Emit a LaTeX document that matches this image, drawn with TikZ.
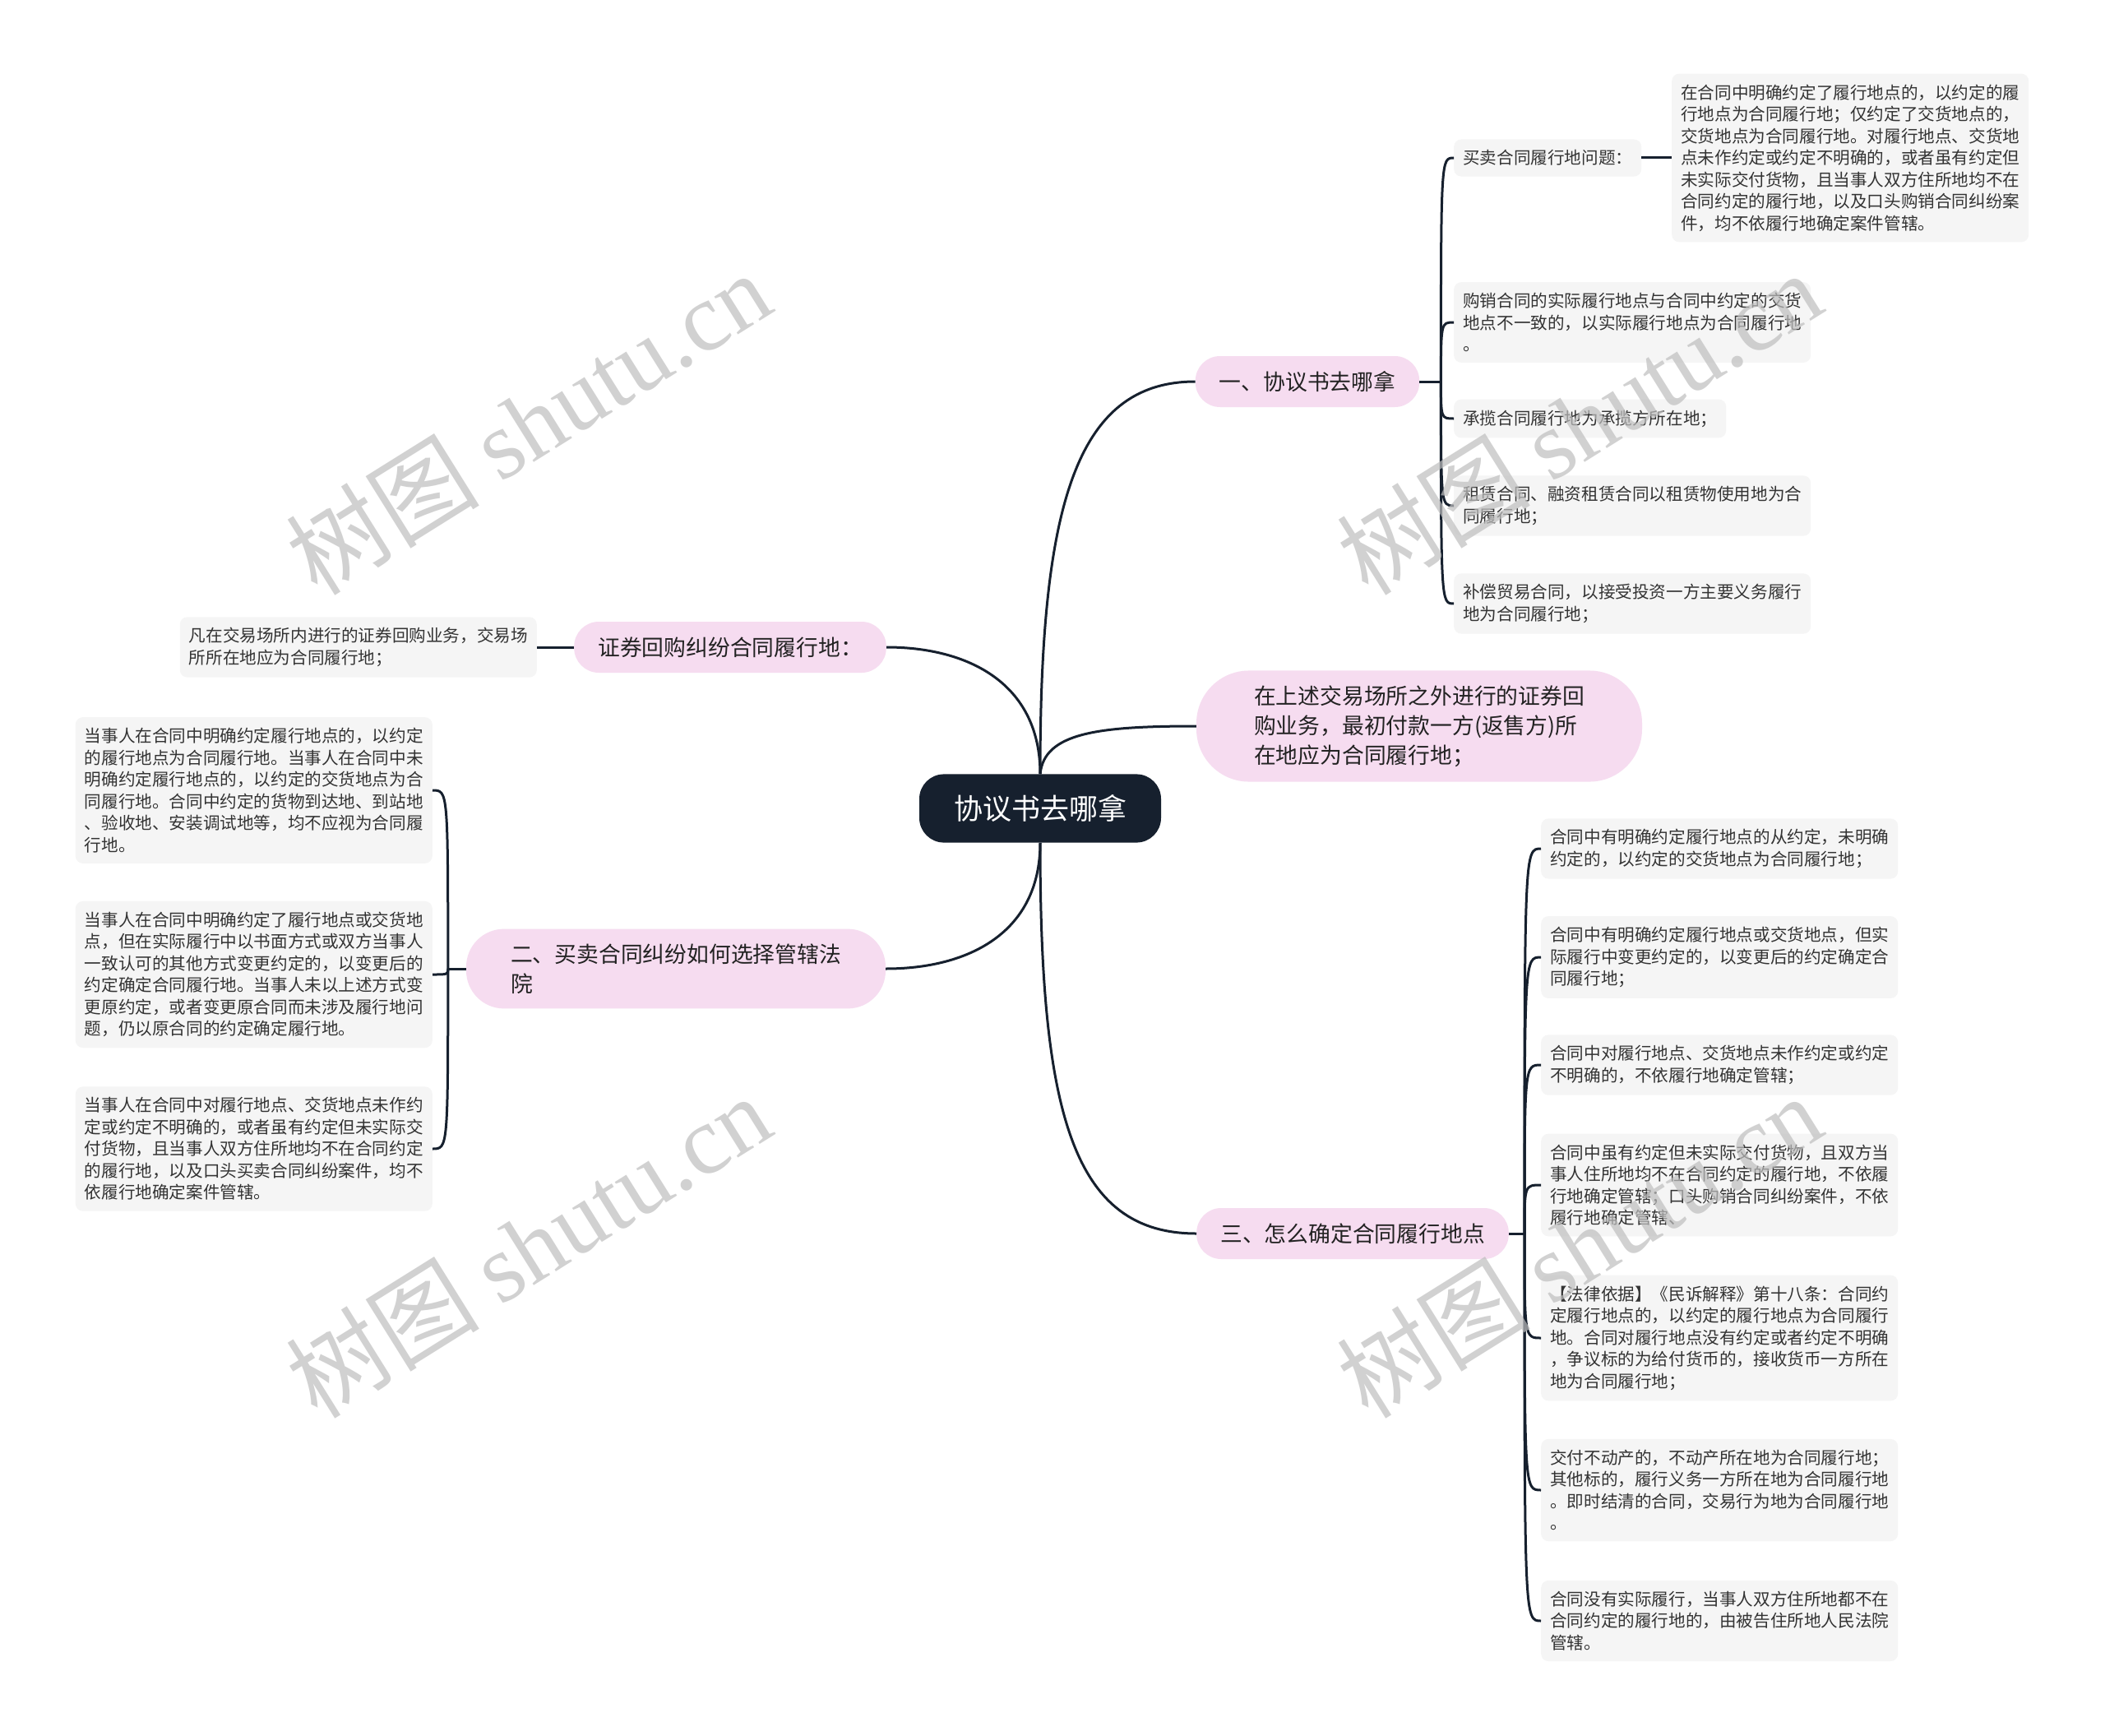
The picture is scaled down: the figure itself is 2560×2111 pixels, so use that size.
\documentclass[tikz,border=0pt]{standalone}
\usepackage{fontspec}
\setmainfont{Noto Sans CJK SC}
\newfontfamily\wmserif{Liberation Serif}
\usepackage{tikz}
\usetikzlibrary{positioning}
\definecolor{rootnavy}{RGB}{22,32,46}
\definecolor{topicpink}{RGB}{246,220,240}
\definecolor{leafgray}{RGB}{245,245,245}
\definecolor{leafink}{RGB}{51,51,51}
\definecolor{topicink}{RGB}{34,34,34}
\definecolor{wmgray}{RGB}{190,190,190}
\newcommand{\rootfont}{\fontsize{35}{40}\selectfont}
\newcommand{\topicfont}{\fontsize{26.8}{36}\selectfont}
\newcommand{\leaffont}{\fontsize{20.6}{26.5}\selectfont}
\tikzset{
  rootbox/.style={fill=rootnavy,text=white,font=\rootfont,rounded corners=30pt,inner xsep=42pt,inner ysep=25pt},
  topic/.style={fill=topicpink,text=topicink,font=\topicfont,align=left,rounded corners=30pt,inner xsep=29pt,inner ysep=18pt,minimum height=62pt},
  leaf/.style={fill=leafgray,text=leafink,font=\leaffont,align=left,rounded corners=9pt,inner xsep=11pt,inner ysep=13pt,minimum height=45pt},
  link/.style={draw=rootnavy,line width=3pt},
  wm/.style={text=wmgray,font=\fontsize{118}{122}\selectfont,opacity=0.7,rotate=32}
}

\begin{document}
\begin{tikzpicture}[x=1pt,y=-1pt]
    \useasboundingbox (0,0) rectangle (2560,2111);
    \fill[white] (0,0) rectangle (2560,2111);

    % centre
    \node[rootbox] (root) at (1265,983) {协议书去哪拿};

    % main topics
    \node[topic] (s1) at (1590,464) {一、协议书去哪拿};
    \node[topic,inner xsep=70pt,rounded corners=64pt] (s2) at (1726,883) {在上述交易场所之外进行的证券回\\购业务，最初付款一方(返售方)所\\在地应为合同履行地；};
    \node[topic] (s3) at (888,787) {证券回购纠纷合同履行地：};
    \node[topic,inner xsep=54pt,rounded corners=46pt] (s4) at (822,1178) {二、买卖合同纠纷如何选择管辖法\\院};
    \node[topic] (s5) at (1645,1500) {三、怎么确定合同履行地点};

    % 一
    \node[leaf,anchor=west] (a0) at (1768,192) {买卖合同履行地问题：};
    \node[leaf,anchor=west] (a0d) at (2033,192) {在合同中明确约定了履行地点的，以约定的履\\行地点为合同履行地；仅约定了交货地点的，\\交货地点为合同履行地。对履行地点、交货地\\点未作约定或约定不明确的，或者虽有约定但\\未实际交付货物，且当事人双方住所地均不在\\合同约定的履行地，以及口头购销合同纠纷案\\件，均不依履行地确定案件管辖。};
    \node[leaf,anchor=west] (a1) at (1768,392) {购销合同的实际履行地点与合同中约定的交货\\地点不一致的，以实际履行地点为合同履行地\\。};
    \node[leaf,anchor=west] (a2) at (1768,509) {承揽合同履行地为承揽方所在地；};
    \node[leaf,anchor=west] (a3) at (1768,615) {租赁合同、融资租赁合同以租赁物使用地为合\\同履行地；};
    \node[leaf,anchor=west] (a4) at (1768,734) {补偿贸易合同，以接受投资一方主要义务履行\\地为合同履行地；};

    % 证券回购
    \node[leaf,anchor=east] (s3d) at (653,787) {凡在交易场所内进行的证券回购业务，交易场\\所所在地应为合同履行地；};

    % 二
    \node[leaf,anchor=east] (l1) at (526,961) {当事人在合同中明确约定履行地点的，以约定\\的履行地点为合同履行地。当事人在合同中未\\明确约定履行地点的，以约定的交货地点为合\\同履行地。合同中约定的货物到达地、到站地\\、验收地、安装调试地等，均不应视为合同履\\行地。};
    \node[leaf,anchor=east] (l2) at (526,1185) {当事人在合同中明确约定了履行地点或交货地\\点，但在实际履行中以书面方式或双方当事人\\一致认可的其他方式变更约定的，以变更后的\\约定确定合同履行地。当事人未以上述方式变\\更原约定，或者变更原合同而未涉及履行地问\\题，仍以原合同的约定确定履行地。};
    \node[leaf,anchor=east] (l3) at (526,1397) {当事人在合同中对履行地点、交货地点未作约\\定或约定不明确的，或者虽有约定但未实际交\\付货物，且当事人双方住所地均不在合同约定\\的履行地，以及口头买卖合同纠纷案件，均不\\依履行地确定案件管辖。};

    % 三
    \node[leaf,anchor=west] (b1) at (1874,1032) {合同中有明确约定履行地点的从约定，未明确\\约定的，以约定的交货地点为合同履行地；};
    \node[leaf,anchor=west] (b2) at (1874,1164) {合同中有明确约定履行地点或交货地点，但实\\际履行中变更约定的，以变更后的约定确定合\\同履行地；};
    \node[leaf,anchor=west] (b3) at (1874,1295) {合同中对履行地点、交货地点未作约定或约定\\不明确的，不依履行地确定管辖；};
    \node[leaf,anchor=west] (b4) at (1874,1441) {合同中虽有约定但未实际交付货物，且双方当\\事人住所地均不在合同约定的履行地，不依履\\行地确定管辖；口头购销合同纠纷案件，不依\\履行地确定管辖、};
    \node[leaf,anchor=west] (b5) at (1874,1627) {【法律依据】《民诉解释》第十八条：合同约\\定履行地点的，以约定的履行地点为合同履行\\地。合同对履行地点没有约定或者约定不明确\\，争议标的为给付货币的，接收货币一方所在\\地为合同履行地；};
    \node[leaf,anchor=west] (b6) at (1874,1812) {交付不动产的，不动产所在地为合同履行地；\\其他标的，履行义务一方所在地为合同履行地\\。即时结清的合同，交易行为地为合同履行地\\。};
    \node[leaf,anchor=west] (b7) at (1874,1971) {合同没有实际履行，当事人双方住所地都不在\\合同约定的履行地的，由被告住所地人民法院\\管辖。};

    % links from the centre
    \draw[link] (root.north) .. controls +(0,-322) and +(-147,0) .. (s1.west);
    \draw[link] (root.north) .. controls +(5,-50) and +(-120,0) .. (s2.west);
    \draw[link] (root.north) .. controls +(0,-110) and +(100,0) .. (s3.east);
    \draw[link] (root.south) .. controls +(0,110) and +(100,0) .. (s4.east);
    \draw[link] (root.south) .. controls +(0,330) and +(-150,0) .. (s5.west);

    % forks
    \path (s1.east) ++(26,0) coordinate (f1);
    \path (s4.west) ++(-22,0) coordinate (f2);
    \path (s5.east) ++(19,0) coordinate (f3);
    \draw[link] (s1.east) -- (f1);
    \draw[link] (s4.west) -- (f2);
    \draw[link] (s5.east) -- (f3);
    \foreach \c in {a0,a1,a2,a3,a4}
        \draw[link] (f1) .. controls (f1 |- \c.west) .. (\c.west);
    \foreach \c in {l1,l2,l3}
        \draw[link] (f2) .. controls (f2 |- \c.east) .. (\c.east);
    \foreach \c in {b1,b2,b3,b4,b5,b6,b7}
        \draw[link] (f3) .. controls (f3 |- \c.west) .. (\c.west);
    \draw[link] (a0) -- (a0d);
    \draw[link] (s3) -- (s3d);

    % watermarks
    \node[wm] (w1) at (642,514) {树图 {\wmserif shutu.cn}};
    \node[wm] (w2) at (1920,514) {树图 {\wmserif shutu.cn}};
    \node[wm] (w3) at (642,1515) {树图 {\wmserif shutu.cn}};
    \node[wm] (w4) at (1920,1515) {树图 {\wmserif shutu.cn}};
\end{tikzpicture}
\end{document}
